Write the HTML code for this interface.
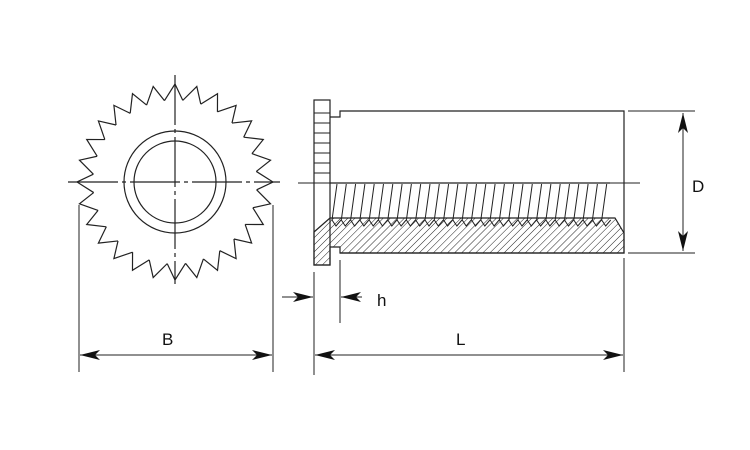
<!DOCTYPE html>
<html><head><meta charset="utf-8"><style>body{margin:0;background:#fff}svg{display:block}text{font-family:"Liberation Sans",sans-serif;font-size:17px;fill:#111}</style></head><body>
<svg width="750" height="450" viewBox="0 0 750 450" xmlns="http://www.w3.org/2000/svg" xmlns:xlink="http://www.w3.org/1999/xlink">
<defs>
<pattern id="h" width="5" height="5" patternUnits="userSpaceOnUse" patternTransform="rotate(45)"><line x1="0" y1="0" x2="0" y2="5" stroke="#222" stroke-width="1"/></pattern>
<marker id="a" viewBox="0 0 20 10" refX="20" refY="5" markerWidth="20" markerHeight="10" markerUnits="userSpaceOnUse" orient="auto-start-reverse"><path d="M0,0 L20,5 L0,10 L5,5 Z" fill="#111"/></marker>
<polyline id="t" points="81.32,-10.56 98,0 81.63,7.8" fill="none" stroke="#222" stroke-width="1.2"/>
<polyline id="r" points="5,184 0,220 4,226 9,220" fill="none" stroke="#222" stroke-width="1"/>
</defs>
<g transform="translate(175,182)">
<use xlink:href="#t" transform="rotate(0)"/><use xlink:href="#t" transform="rotate(12.857)"/><use xlink:href="#t" transform="rotate(25.714)"/><use xlink:href="#t" transform="rotate(38.571)"/><use xlink:href="#t" transform="rotate(51.429)"/><use xlink:href="#t" transform="rotate(64.286)"/><use xlink:href="#t" transform="rotate(77.143)"/><use xlink:href="#t" transform="rotate(90)"/><use xlink:href="#t" transform="rotate(102.857)"/><use xlink:href="#t" transform="rotate(115.714)"/><use xlink:href="#t" transform="rotate(128.571)"/><use xlink:href="#t" transform="rotate(141.429)"/><use xlink:href="#t" transform="rotate(154.286)"/><use xlink:href="#t" transform="rotate(167.143)"/><use xlink:href="#t" transform="rotate(180)"/><use xlink:href="#t" transform="rotate(192.857)"/><use xlink:href="#t" transform="rotate(205.714)"/><use xlink:href="#t" transform="rotate(218.571)"/><use xlink:href="#t" transform="rotate(231.429)"/><use xlink:href="#t" transform="rotate(244.286)"/><use xlink:href="#t" transform="rotate(257.143)"/><use xlink:href="#t" transform="rotate(270)"/><use xlink:href="#t" transform="rotate(282.857)"/><use xlink:href="#t" transform="rotate(295.714)"/><use xlink:href="#t" transform="rotate(308.571)"/><use xlink:href="#t" transform="rotate(321.429)"/><use xlink:href="#t" transform="rotate(334.286)"/><use xlink:href="#t" transform="rotate(347.143)"/>
</g>
<g stroke="#222" fill="none" stroke-width="1.2">
<circle cx="175" cy="182" r="51"/>
<circle cx="175" cy="182" r="41"/>
<line x1="68" y1="182" x2="280" y2="182" stroke-dasharray="50,4,4,4"/>
<line x1="175" y1="75" x2="175" y2="284" stroke-dasharray="50,4,4,4"/>
<rect x="314" y="100" width="16" height="165" fill="#fff"/>
<g stroke-width="1">
<line x1="314" y1="113" x2="330" y2="113"/><line x1="314" y1="123" x2="330" y2="123"/><line x1="314" y1="133" x2="330" y2="133"/><line x1="314" y1="143" x2="330" y2="143"/><line x1="314" y1="153" x2="330" y2="153"/><line x1="314" y1="163" x2="330" y2="163"/><line x1="314" y1="173" x2="330" y2="173"/>
</g>
<polyline points="330,117 340,117 340,111 624,111 624,253 340,253"/>
<polygon points="314,232 330,218 615,218 624,233 624,253 340,253 340,247 330,247 330,265 314,265" fill="url(#h)"/>
<line x1="330" y1="183" x2="610" y2="183"/>
<line x1="298" y1="183" x2="640" y2="183" stroke-width="1"/>
</g>
<g>
<use xlink:href="#r" x="332"/><use xlink:href="#r" x="341.3"/><use xlink:href="#r" x="350.6"/><use xlink:href="#r" x="359.9"/><use xlink:href="#r" x="369.2"/><use xlink:href="#r" x="378.5"/><use xlink:href="#r" x="387.8"/><use xlink:href="#r" x="397.1"/><use xlink:href="#r" x="406.4"/><use xlink:href="#r" x="415.7"/><use xlink:href="#r" x="425"/><use xlink:href="#r" x="434.3"/><use xlink:href="#r" x="443.6"/><use xlink:href="#r" x="452.9"/><use xlink:href="#r" x="462.2"/><use xlink:href="#r" x="471.5"/><use xlink:href="#r" x="480.8"/><use xlink:href="#r" x="490.1"/><use xlink:href="#r" x="499.4"/><use xlink:href="#r" x="508.7"/><use xlink:href="#r" x="518"/><use xlink:href="#r" x="527.3"/><use xlink:href="#r" x="536.6"/><use xlink:href="#r" x="545.9"/><use xlink:href="#r" x="555.2"/><use xlink:href="#r" x="564.5"/><use xlink:href="#r" x="573.8"/><use xlink:href="#r" x="583.1"/><use xlink:href="#r" x="592.4"/><use xlink:href="#r" x="601.7"/>
</g>
<g stroke="#222" stroke-width="1" fill="none">
<line x1="628" y1="111" x2="695" y2="111"/><line x1="628" y1="253" x2="695" y2="253"/>
<line x1="683" y1="113" x2="683" y2="251" marker-start="url(#a)" marker-end="url(#a)"/>
<line x1="79" y1="205" x2="79" y2="372"/><line x1="273" y1="205" x2="273" y2="372"/>
<line x1="80" y1="355" x2="272" y2="355" marker-start="url(#a)" marker-end="url(#a)"/>
<line x1="314" y1="272" x2="314" y2="375"/><line x1="624" y1="258" x2="624" y2="372"/><line x1="340" y1="260" x2="340" y2="323"/>
<line x1="315" y1="355" x2="623" y2="355" marker-start="url(#a)" marker-end="url(#a)"/>
<line x1="282" y1="297" x2="313" y2="297" marker-end="url(#a)"/>
<line x1="362" y1="297" x2="341" y2="297" marker-end="url(#a)"/>
</g>
<text x="162" y="345">B</text><text x="456" y="345">L</text><text x="692" y="192">D</text><text x="377" y="306">h</text>
</svg>
</body></html>
